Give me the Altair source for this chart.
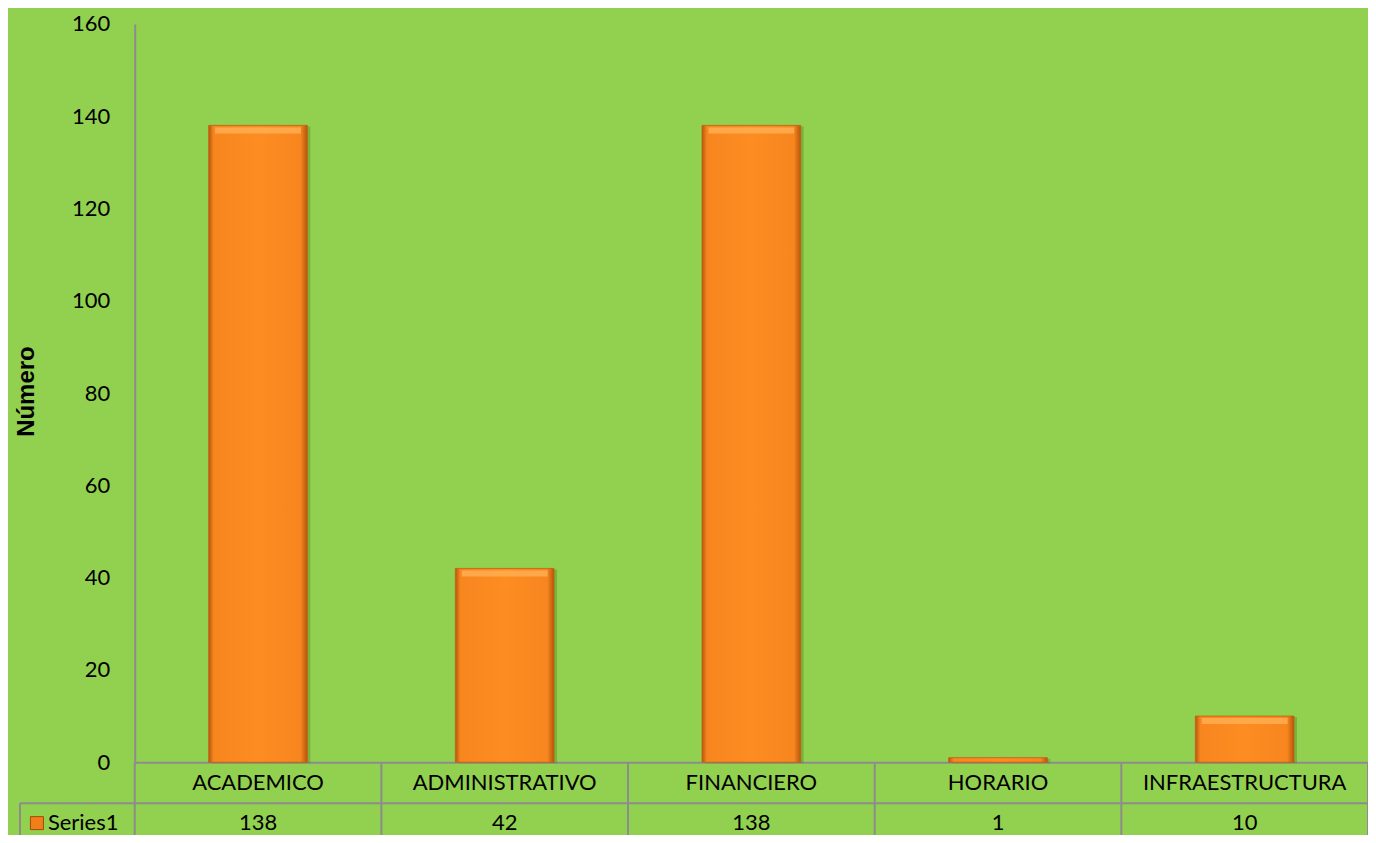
import altair as alt
import pandas as pd

categories = ["ACADEMICO", "ADMINISTRATIVO", "FINANCIERO", "HORARIO", "INFRAESTRUCTURA"]
values = [138, 42, 138, 1, 10]
series = ["Series1"]
y_ticks = [0, 20, 40, 60, 80, 100, 120, 140, 160]

FONT = "Lato"
FS = 22
GRAY = "#8C8C8C"
W, H = 1236, 740

df = pd.DataFrame({"cat": categories, "val": values, "series": series[0]})
sdf = pd.DataFrame({"series": series})

x_axis = alt.Axis(title=None, orient="bottom", ticks=False, domainColor=GRAY, domainWidth=2,
                  labelFont=FONT, labelFontSize=FS, labelColor="black", labelAngle=0,
                  labelPadding=20, labelBaseline="middle", labelLimit=400)
x_scale = alt.Scale(paddingInner=0, paddingOuter=0)

x_enc = alt.X("cat:N", sort=categories, scale=x_scale, axis=x_axis)
y_enc = alt.Y(
    "val:Q", scale=alt.Scale(domain=[0, 160], nice=False),
    axis=alt.Axis(values=y_ticks, title="Número", grid=False, ticks=False,
                  domainColor=GRAY, domainWidth=2,
                  labelFont=FONT, labelFontSize=FS, labelColor="black", labelPadding=25,
                  titleFont="Liberation Sans", titleFontSize=24, titleFontWeight="bold",
                  titleColor="black", titleX=-96, titleY=368, titleAlign="center",
                  titleBaseline="bottom"),
)

bar_grad = alt.Gradient(
    gradient="linear", x1=0, x2=1, y1=0, y2=0,
    stops=[
        alt.GradientStop(color="#B8560C", offset=0),
        alt.GradientStop(color="#F7861F", offset=0.05),
        alt.GradientStop(color="#FD8C22", offset=0.5),
        alt.GradientStop(color="#F7861F", offset=0.93),
        alt.GradientStop(color="#B8560C", offset=1),
    ],
)

shadow = alt.Chart(df).mark_bar(
    width=alt.RelativeBandSize(0.4), color="#4E7A22", opacity=0.35, xOffset=3, yOffset=1
).encode(x=x_enc, y=y_enc)

bars = alt.Chart(df).mark_bar(
    width=alt.RelativeBandSize(0.4), color=bar_grad, stroke="#C0600F", strokeWidth=0.8
).encode(x=x_enc, y=y_enc)

highlight = alt.Chart(df).transform_filter("datum.val > 3").mark_tick(
    size=86, thickness=6, color="#FFB054", opacity=0.8, yOffset=5
).encode(x=x_enc, y=y_enc)

vlines = alt.Chart(df).mark_rule(color=GRAY, strokeWidth=2).encode(
    x=alt.X("cat:N", sort=categories, bandPosition=0, scale=x_scale, axis=x_axis),
    y=alt.value(H), y2=alt.value(H + 100),
)
vlast = alt.Chart(df).transform_filter(
    alt.datum.cat == categories[-1]
).mark_rule(color=GRAY, strokeWidth=2).encode(
    x=alt.X("cat:N", sort=categories, bandPosition=1, scale=x_scale, axis=x_axis),
    y=alt.value(H), y2=alt.value(H + 100),
)
hline = alt.Chart(sdf).mark_rule(color=GRAY, strokeWidth=2).encode(
    x=alt.value(-115), x2=alt.value(W), y=alt.value(H + 41)
)
lline = alt.Chart(sdf).mark_rule(color=GRAY, strokeWidth=2).encode(
    x=alt.value(-115), y=alt.value(H + 41), y2=alt.value(H + 100)
)

val_text = alt.Chart(df).mark_text(
    font=FONT, fontSize=FS, color="black", baseline="middle", align="center"
).encode(x=x_enc, y=alt.value(H + 61), text="val:Q")

legend_sq = alt.Chart(sdf).mark_square(
    size=170, color="#F07F1A", stroke="#A04A08", strokeWidth=1, opacity=1
).encode(x=alt.value(-98), y=alt.value(H + 61))

legend_txt = alt.Chart(sdf).mark_text(
    font=FONT, fontSize=FS, color="black", baseline="middle", align="left"
).encode(x=alt.value(-87), y=alt.value(H + 61), text="series:N")

chart = alt.layer(
    shadow, bars, highlight, vlines, vlast, hline, lline, val_text, legend_sq, legend_txt
).properties(
    width=W, height=H,
    autosize=alt.AutoSizeParams(type="none"),
    padding={"left": 127, "top": 15, "right": 0, "bottom": 72},
    background="#92D050",
).configure_view(strokeWidth=0)

chart.save("out.html", embed_options={"renderer": "svg", "actions": False})
